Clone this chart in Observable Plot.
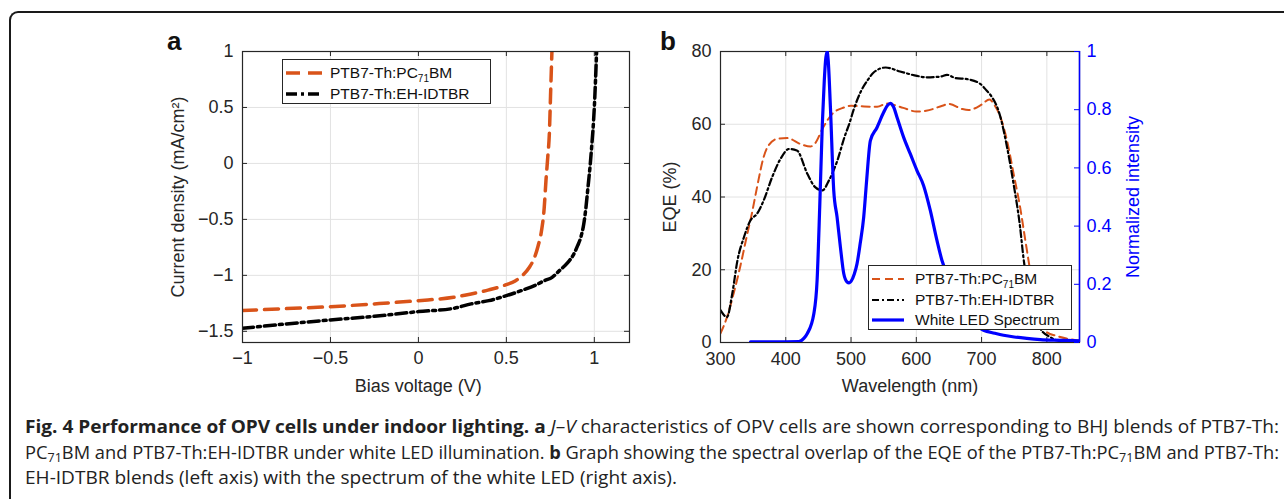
<!DOCTYPE html>
<html>
<head>
<meta charset="utf-8">
<script src="https://cdn.jsdelivr.net/npm/d3@7"></script>
<script src="https://cdn.jsdelivr.net/npm/@observablehq/plot@0.6"></script>
<style>
  html, body { margin: 0; padding: 0; background: #fff; }
  body { width: 1284px; height: 499px; position: relative; overflow: hidden; font-family: "Liberation Sans", Arial, sans-serif; }
  .abs { position: absolute; }
  .frame { left: 9px; top: 11px; width: 1400px; height: 700px; border-top: 2px solid #1a1a1a; border-left: 2px solid #1a1a1a; border-top-left-radius: 9px; }
  .plabel { font-weight: bold; font-size: 26px; line-height: 26px; color: #111; }
  .legend { background: #fff; border: 1px solid #262626; box-sizing: border-box; }
  .lrow { position: absolute; display: flex; align-items: center; font-size: 15.5px; color: #111; white-space: nowrap; }
  .lrow sub { font-size: 10px; vertical-align: -4px; line-height: 0; }
  .cap { font-family: "Open Sans", sans-serif; font-size: 17.5px; line-height: 25px; color: #222; white-space: nowrap; transform-origin: 0 0; }
  .cap sub { font-size: 12px; vertical-align: -3px; line-height: 0; }
</style>
</head>
<body>
<div class="abs frame"></div>
<div id="plotA" class="abs" style="left:150px; top:0px;"></div>
<div id="plotB" class="abs" style="left:640px; top:0px;"></div>
<div id="plotB2" class="abs" style="left:640px; top:0px;"></div>
<div class="abs plabel" style="left:167px; top:28px;">a</div>
<div class="abs plabel" style="left:660px; top:28px;">b</div>
<div id="legA" class="abs legend" style="left:282px; top:59px; width:209px; height:45px;"></div>
<div id="legB" class="abs legend" style="left:868px; top:265px; width:204px; height:65px;"></div>
<div class="abs cap" id="cap1" style="top:414px; left:25px;"><b>Fig. 4 Performance of OPV cells under indoor lighting.</b> <b>a</b> <i>J</i>–<i>V</i> characteristics of OPV cells are shown corresponding to BHJ blends of PTB7-Th:</div>
<div class="abs cap" id="cap2" style="top:440px; left:25px;">PC<sub>71</sub>BM and PTB7-Th:EH-IDTBR under white LED illumination. <b>b</b> Graph showing the spectral overlap of the EQE of the PTB7-Th:PC<sub>71</sub>BM and PTB7-Th:</div>
<div class="abs cap" id="cap3" style="top:465px; left:25px;">EH-IDTBR blends (left axis) with the spectrum of the white LED (right axis).</div>
<script>
// ---------- Panel a: J–V data ----------
const biasPC = [-1, -0.75, -0.5, -0.25, 0, 0.2, 0.3, 0.4, 0.5, 0.55, 0.59, 0.63, 0.66, 0.68, 0.70, 0.715, 0.725, 0.735, 0.745, 0.751, 0.759];
const jPC    = [-1.315, -1.297, -1.28, -1.255, -1.226, -1.196, -1.166, -1.13, -1.083, -1.05, -1.003, -0.93, -0.84, -0.74, -0.60, -0.40, -0.155, 0.05, 0.29, 0.6, 1.0];
const biasEH = [-1, -0.75, -0.5, -0.25, 0, 0.2, 0.3, 0.4, 0.5, 0.6, 0.66, 0.72, 0.76, 0.8, 0.85, 0.88, 0.905, 0.925, 0.94, 0.952, 0.962, 0.97, 0.977, 0.985, 0.992, 1.0, 1.007, 1.013];
const jEH    = [-1.473, -1.434, -1.398, -1.366, -1.324, -1.295, -1.255, -1.226, -1.181, -1.128, -1.092, -1.045, -1.018, -0.96, -0.884, -0.82, -0.735, -0.65, -0.541, -0.40, -0.244, -0.12, -0.005, 0.15, 0.292, 0.5, 0.75, 1.0];
const xTicksA = [-1, -0.5, 0, 0.5, 1];
const yTicksA = [-1.5, -1, -0.5, 0, 0.5, 1];
const xDomainA = [-1, 1.2];
const yDomainA = [-1.6, 1];

// ---------- Panel b: EQE + LED data ----------
const wlPC  = [300, 310, 320, 330, 340, 348, 356, 366, 372, 387, 402, 422, 438, 446, 456, 471, 489, 500, 520, 540, 555, 580, 600, 615, 640, 650, 670, 680, 700, 712, 720, 729, 739, 749, 759, 767, 780, 790, 800, 815, 830, 850];
const eqePC = [2.5, 7.0, 13.4, 20.7, 29.0, 35.4, 42.7, 50.9, 53.7, 56.0, 56.2, 54.6, 53.9, 55.0, 58.7, 62.8, 64.6, 65.1, 64.9, 64.8, 65.7, 64.5, 63.5, 63.7, 65.1, 65.6, 64.2, 63.9, 65.4, 66.8, 65.2, 61.9, 55.5, 46.4, 37.2, 28.1, 14, 6, 2.8, 1.8, 1.1, 0.5];
const wlEH  = [300, 310, 318, 326, 336, 346, 356, 366, 379, 392, 405, 417, 433, 445, 456, 466, 479, 490, 498, 504, 515, 525, 535, 553, 575, 601, 616, 637, 647, 660, 678, 698, 708, 713, 729, 739, 749, 759, 764, 775, 790, 805, 815, 830, 850];
const eqeEH = [8.9, 7.0, 13.4, 22.6, 29.0, 33.6, 35.4, 39.0, 45.4, 50.5, 53.2, 52.8, 46.4, 42.7, 41.8, 44.5, 50.0, 56.5, 60.5, 64.0, 69.0, 72.0, 74.3, 75.6, 74.5, 73.3, 72.9, 73.1, 73.6, 72.7, 72.4, 71.1, 69.2, 68.2, 61.9, 53.7, 43.6, 31.7, 23.5, 12, 3.8, 1.5, 0.6, 0.2, 0.1];
const wlLED = [346, 380, 420, 428, 433, 443, 448, 452, 456, 459, 461, 463.3, 465, 468.4, 473.5, 478.6, 483.7, 488.8, 493.9, 497, 500, 505, 509.2, 514, 519.4, 524, 529.6, 539.8, 550, 556, 560.2, 565, 570.4, 580.6, 590.8, 601, 611.2, 621.4, 631.6, 639.3, 650, 660, 670, 680, 690, 703, 720, 733.6, 750, 769.3, 790, 810, 830, 850];
const led   = [0.002, 0.002, 0.003, 0.015, 0.031, 0.099, 0.214, 0.465, 0.751, 0.9, 0.97, 1.0, 0.97, 0.808, 0.522, 0.431, 0.328, 0.237, 0.208, 0.205, 0.21, 0.235, 0.271, 0.34, 0.431, 0.56, 0.694, 0.739, 0.791, 0.815, 0.822, 0.81, 0.774, 0.705, 0.648, 0.591, 0.539, 0.454, 0.351, 0.282, 0.22, 0.16, 0.11, 0.08, 0.06, 0.042, 0.032, 0.025, 0.019, 0.014, 0.01, 0.008, 0.007, 0.006];
const xTicksB = [300, 400, 500, 600, 700, 800];
const yTicksB = [0, 20, 40, 60, 80];
const rTicksB = [0, 0.2, 0.4, 0.6, 0.8, 1];
const xDomainB = [300, 850];
const yDomainB = [0, 80];
const rDomainB = [0, 1];

const seriesNames = ["PTB7-Th:PC<sub>71</sub>BM", "PTB7-Th:EH-IDTBR", "White LED Spectrum"];

// ---------- styles ----------
const ORANGE = "#D95319", BLACK = "#000000", BLUE = "#0000FF";
const AXIS = "#262626", GRID = "#e2e2e2";
const FONT = "'Liberation Sans', Arial, sans-serif";
const fmt = d => (d < 0 ? "\u2212" + Math.abs(d) : String(d));
const zip = (xs, ys) => xs.map((x, i) => ({x, y: ys[i]}));
const labelOpts = {text: d => d, textAnchor: "middle", lineAnchor: "middle", fontSize: 18};

// ---------- Panel a ----------
const A = {w: 490, h: 400, ml: 92, mr: 11, mt: 51, mb: 58};
const innerWA = A.w - A.ml - A.mr, innerHA = A.h - A.mt - A.mb;
const plotA = Plot.plot({
  width: A.w, height: A.h, marginLeft: A.ml, marginRight: A.mr, marginTop: A.mt, marginBottom: A.mb,
  style: {fontFamily: FONT, fontSize: "18px", background: "transparent", overflow: "visible", color: AXIS},
  x: {domain: xDomainA, axis: null},
  y: {domain: yDomainA, axis: null},
  marks: [
    Plot.gridX(xTicksA, {stroke: GRID, strokeOpacity: 1}),
    Plot.gridY(yTicksA, {stroke: GRID, strokeOpacity: 1}),
    Plot.ruleX(xTicksA, {x: d => d, insetTop: innerHA - 5, stroke: AXIS}),
    Plot.ruleX(xTicksA, {x: d => d, insetBottom: innerHA - 5, stroke: AXIS}),
    Plot.ruleY(yTicksA, {y: d => d, insetRight: innerWA - 5, stroke: AXIS}),
    Plot.ruleY(yTicksA, {y: d => d, insetLeft: innerWA - 5, stroke: AXIS}),
    Plot.line(zip(biasPC, jPC), {x: "x", y: "y", stroke: ORANGE, strokeWidth: 3.5, strokeDasharray: "14,8", curve: "monotone-x", clip: true}),
    Plot.line(zip(biasEH, jEH), {x: "x", y: "y", stroke: BLACK, strokeWidth: 3.5, strokeDasharray: "11,4,3,4", curve: "monotone-x", clip: true}),
    Plot.frame({stroke: AXIS, strokeWidth: 1.2}),
    Plot.axisX({ticks: xTicksA, tickSize: 0, tickPadding: 9, tickFormat: fmt, label: null, color: AXIS, fontSize: 18}),
    Plot.axisY({ticks: yTicksA, tickSize: 0, tickPadding: 9, tickFormat: fmt, label: null, color: AXIS, fontSize: 18}),
    Plot.text(["Bias voltage (V)"], {...labelOpts, frameAnchor: "bottom", dy: 44, dx: -17.7, fill: AXIS}),
    Plot.text(["Current density (mA/cm\u00b2)"], {...labelOpts, frameAnchor: "left", dx: -64, rotate: -90, fill: AXIS})
  ]
});
document.getElementById("plotA").append(plotA);

// ---------- Panel b ----------
const B = {w: 560, h: 400, ml: 80, mr: 121, mt: 51, mb: 58};
const innerWB = B.w - B.ml - B.mr, innerHB = B.h - B.mt - B.mb;
const plotB = Plot.plot({
  width: B.w, height: B.h, marginLeft: B.ml, marginRight: B.mr, marginTop: B.mt, marginBottom: B.mb,
  style: {fontFamily: FONT, fontSize: "18px", background: "transparent", overflow: "visible", color: AXIS},
  x: {domain: xDomainB, axis: null},
  y: {domain: yDomainB, axis: null},
  marks: [
    Plot.gridX(xTicksB, {stroke: GRID, strokeOpacity: 1}),
    Plot.gridY(yTicksB, {stroke: GRID, strokeOpacity: 1}),
    Plot.ruleX(xTicksB, {x: d => d, insetTop: innerHB - 5, stroke: AXIS}),
    Plot.ruleX(xTicksB, {x: d => d, insetBottom: innerHB - 5, stroke: AXIS}),
    Plot.ruleY(yTicksB, {y: d => d, insetRight: innerWB - 5, stroke: AXIS}),
    Plot.line(zip(wlPC, eqePC), {x: "x", y: "y", stroke: ORANGE, strokeWidth: 2, strokeDasharray: "8,5", curve: "monotone-x", clip: true}),
    Plot.line(zip(wlEH, eqeEH), {x: "x", y: "y", stroke: BLACK, strokeWidth: 2.2, strokeDasharray: "7,3,2,3", curve: "monotone-x", clip: true}),
    Plot.frame({stroke: AXIS, strokeWidth: 1.2}),
    Plot.axisX({ticks: xTicksB, tickSize: 0, tickPadding: 10, tickFormat: fmt, label: null, color: AXIS, fontSize: 18}),
    Plot.axisY({ticks: yTicksB, tickSize: 0, tickPadding: 9, tickFormat: fmt, label: null, color: AXIS, fontSize: 18}),
    Plot.text(["Wavelength (nm)"], {...labelOpts, frameAnchor: "bottom", dy: 44, dx: 10, fill: AXIS}),
    Plot.text(["EQE (%)"], {...labelOpts, frameAnchor: "left", dx: -50.7, rotate: -90, fill: AXIS})
  ]
});
document.getElementById("plotB").append(plotB);

const plotB2 = Plot.plot({
  width: B.w, height: B.h, marginLeft: B.ml, marginRight: B.mr, marginTop: B.mt, marginBottom: B.mb,
  style: {fontFamily: FONT, fontSize: "18px", background: "transparent", overflow: "visible", color: BLUE},
  x: {domain: xDomainB, axis: null},
  y: {domain: rDomainB, axis: null},
  marks: [
    Plot.line(zip(wlLED, led), {x: "x", y: "y", stroke: BLUE, strokeWidth: 3.2, curve: "monotone-x", clip: true}),
    Plot.ruleX([xDomainB[1]], {x: d => d, stroke: BLUE, strokeWidth: 1.5}),
    Plot.ruleY(rTicksB, {y: d => d, insetLeft: innerWB - 5, stroke: BLUE}),
    Plot.axisY({anchor: "right", ticks: rTicksB, tickSize: 0, tickPadding: 7, tickFormat: fmt, label: null, color: BLUE, fontSize: 18}),
    Plot.text(["Normalized intensity"], {...labelOpts, frameAnchor: "right", dx: 53.7, rotate: -90, fill: BLUE})
  ]
});
document.getElementById("plotB2").append(plotB2);

// ---------- Legends ----------
function sample(w, color, sw, dash) {
  return `<svg width="${w}" height="10" style="display:block"><line x1="0" x2="${w}" y1="5" y2="5" stroke="${color}" stroke-width="${sw}" ${dash ? `stroke-dasharray="${dash}"` : ""}/></svg>`;
}
function row(top, left, w, gap, color, sw, dash, name) {
  return `<div class="lrow" style="top:${top}px; left:${left}px; height:20px;">${sample(w, color, sw, dash)}<span style="margin-left:${gap}px">${name}</span></div>`;
}
document.getElementById("legA").innerHTML =
  row(2.5, 3, 36, 8, ORANGE, 3.5, "14,8", seriesNames[0]) +
  row(23.5, 3, 36, 8, BLACK, 3.5, "11,4,3,4", seriesNames[1]);
document.getElementById("legB").innerHTML =
  row(3, 3, 32, 11, ORANGE, 2, "8,5", seriesNames[0]) +
  row(24, 3, 32, 11, BLACK, 2.2, "7,3,2,3", seriesNames[1]) +
  row(44, 3, 32, 11, BLUE, 3.2, null, seriesNames[2]);

// ---------- Caption fit (lines 1 and 2 justified; line 3 to its measured width) ----------
const capWidths = [1254, 1254, 652];
["cap1", "cap2", "cap3"].forEach((id, i) => {
  const el = document.getElementById(id);
  const s = capWidths[i] / el.getBoundingClientRect().width;
  el.style.transform = `scaleX(${s})`;
});
</script>
</body>
</html>
